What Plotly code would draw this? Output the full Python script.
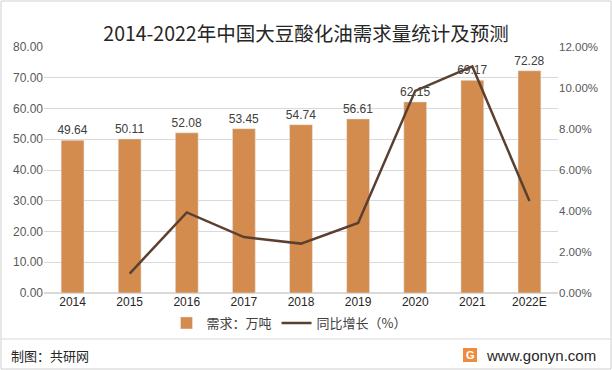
import plotly.graph_objects as go

years = ["2014", "2015", "2016", "2017", "2018", "2019", "2020", "2021", "2022E"]
demand = [49.64, 50.11, 52.08, 53.45, 54.74, 56.61, 62.15, 69.17, 72.28]
growth = [None, 0.95, 3.93, 2.73, 2.41, 3.42, 9.86, 11.05, 4.49]
left_ticks = [0, 10, 20, 30, 40, 50, 60, 70, 80]
right_ticks = [0, 2, 4, 6, 8, 10, 12]

W, H = 612, 370
L, R, T, B = 44, 54, 47, 77
PW, PH = W - L - R, H - T - B

def px(x):
    return (x - L) / PW

def py(y):
    return (H - B - y) / PH

FONT = "Liberation Sans, Arial, sans-serif"
CJK = "Noto Sans CJK SC, sans-serif"

fig = go.Figure()
fig.add_trace(go.Bar(
    x=years, y=demand, name="需求：万吨",
    marker_color="#D38C4D",
    text=[f"{v:.2f}" for v in demand], textposition="outside",
    textfont=dict(size=12, color="#404040", family=FONT),
    constraintext="none",
    cliponaxis=False,
))
fig.add_trace(go.Scatter(
    x=years, y=growth, name="同比增长（%）", yaxis="y2",
    mode="lines", line=dict(color="#5B4030", width=2.5),
    connectgaps=False,
))

fig.update_layout(
    width=W, height=H,
    margin=dict(l=L, r=R, t=T, b=B),
    paper_bgcolor="white", plot_bgcolor="white",
    bargap=0.6,
    showlegend=True,
    legend=dict(orientation="h", x=px(289), xanchor="center", y=py(323), yanchor="middle",
                font=dict(size=13, color="#404040", family=CJK), traceorder="normal"),
    xaxis=dict(tickfont=dict(size=12, color="#262626", family=FONT), showgrid=False,
               showline=False, ticks=""),
    yaxis=dict(range=[0, 80], tickvals=left_ticks, ticktext=[f"{v:.2f}" for v in left_ticks],
               tickfont=dict(size=12, color="#595959", family=FONT),
               gridcolor="#D9D9D9", gridwidth=1, zeroline=True, zerolinecolor="#D9D9D9",
               showline=False),
    yaxis2=dict(range=[0, 12], overlaying="y", side="right", tickvals=right_ticks,
                ticktext=[f"{v:.2f}%" for v in right_ticks],
                tickfont=dict(size=11.5, color="#595959", family=FONT),
                showgrid=False, zeroline=False, showline=False),
    title=dict(text="2014-2022年中国大豆酸化油需求量统计及预测", x=0.5, xanchor="center",
               y=1 - 34 / H, yanchor="middle",
               font=dict(size=19.5, color="#262626", family=CJK)),
)

# border and footer separator
fig.add_shape(type="rect", xref="paper", yref="paper",
              x0=px(1), x1=px(611), y0=py(369), y1=py(1),
              line=dict(color="#D0D0D0", width=1))
fig.add_shape(type="line", xref="paper", yref="paper",
              x0=px(1), x1=px(611), y0=py(339), y1=py(339),
              line=dict(color="#D9D9D9", width=1))

fig.add_annotation(text="制图：共研网", xref="paper", yref="paper",
                   x=px(9), y=py(355), xanchor="left", yanchor="middle", showarrow=False,
                   font=dict(size=13, color="#262626", family=CJK))
# logo
fig.add_shape(type="rect", xref="paper", yref="paper",
              x0=px(463), x1=px(477), y0=py(362), y1=py(348),
              fillcolor="#F08A3C", line=dict(width=0))
fig.add_annotation(text="<b>G</b>", xref="paper", yref="paper",
                   x=px(470), y=py(355), xanchor="center", yanchor="middle", showarrow=False,
                   font=dict(size=11, color="white", family=FONT))
fig.add_annotation(text="www.gonyn.com", xref="paper", yref="paper",
                   x=px(484), y=py(355), xanchor="left", yanchor="middle", showarrow=False,
                   font=dict(size=15, color="#262626", family=FONT))

fig.write_html("out.html", config={"displayModeBar": False},
               post_script="document.body.style.margin='0';document.body.style.overflow='hidden';")
